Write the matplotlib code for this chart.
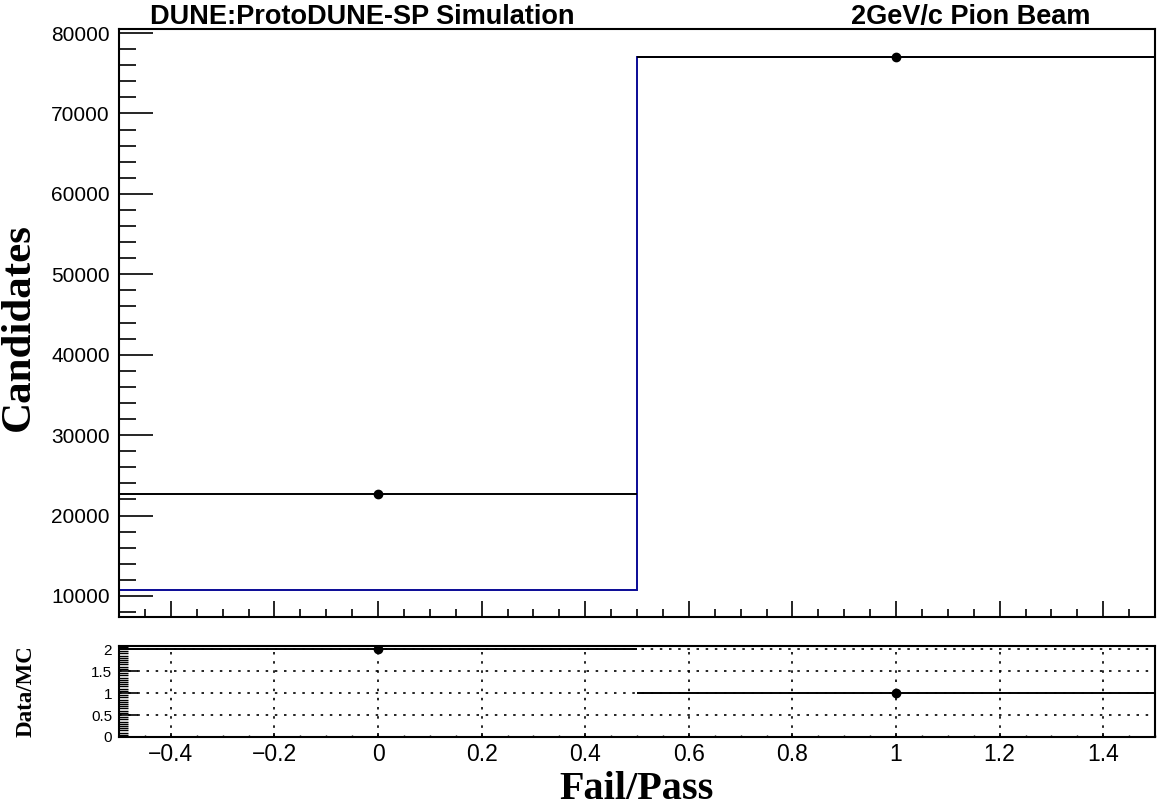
import numpy as np
import matplotlib.pyplot as plt
from matplotlib.ticker import MultipleLocator, FixedLocator, FuncFormatter

plt.rcParams['font.family'] = ['Liberation Sans', 'DejaVu Sans']

# -------------------------------
# 데이터
# -------------------------------
bin_edges = [-0.5, 0.5, 1.5]        # Fail / Pass 두 개 bin
bin_centers = [0.0, 1.0]
mc_counts = [10700, 77000]          # MC (파란 히스토그램)
data_counts = [22700, 77000]        # Data (검은 점)
ratio_vals = [2.0, 1.0]             # Data/MC

x_major = [-0.4, -0.2, 0.0, 0.2, 0.4, 0.6, 0.8, 1.0, 1.2, 1.4]
y_major = [10000, 20000, 30000, 40000, 50000, 60000, 70000, 80000]
r_major = [0, 0.5, 1, 1.5, 2]

mc_color = "#0a0a96"

def fmt_num(v, pos=None):
    s = f"{round(v, 3):g}"
    if s == "-0":
        s = "0"
    return s.replace("-", "\u2212")

fig = plt.figure(figsize=(11.6, 8.08), dpi=100)
ax = fig.add_axes([0.1026, 0.2364, 0.8931, 0.7277])
rx = fig.add_axes([0.1026, 0.0879, 0.8931, 0.1126])

# -------------------------------
# 위쪽 패널: 히스토그램
# -------------------------------
ax.stairs(mc_counts, bin_edges, baseline=None, color=mc_color, linewidth=1.4)
ax.errorbar(bin_centers, data_counts, xerr=0.5, yerr=np.sqrt(data_counts),
            fmt="o", color="k", ms=6, elinewidth=1.4, capsize=0, zorder=3)

ax.set_xlim(-0.5, 1.5)
ax.set_ylim(7390, 80500)
ax.xaxis.set_major_locator(FixedLocator(x_major))
ax.xaxis.set_minor_locator(MultipleLocator(0.05))
ax.yaxis.set_major_locator(FixedLocator(y_major))
ax.yaxis.set_minor_locator(MultipleLocator(2000))
ax.yaxis.set_major_formatter(FuncFormatter(fmt_num))
ax.tick_params(axis="y", which="major", direction="in", length=24.5, width=1.2,
               labelsize=15, pad=6.5, left=True, right=False)
ax.tick_params(axis="y", which="minor", direction="in", length=12.2, width=1.2,
               left=True, right=False)
ax.tick_params(axis="x", which="major", direction="in", length=11.5, width=1.2,
               labelbottom=False, top=False)
ax.tick_params(axis="x", which="minor", direction="in", length=5.8, width=1.2,
               top=False)
for sp in ax.spines.values():
    sp.set_linewidth(1.5)

# -------------------------------
# 아래쪽 패널: Data/MC 비율
# -------------------------------
rx.errorbar(bin_centers, ratio_vals, xerr=0.5, fmt="o", color="k", ms=6,
            elinewidth=1.4, capsize=0, zorder=3)
rx.set_xlim(-0.5, 1.5)
rx.set_ylim(0, 2.07)
rx.xaxis.set_major_locator(FixedLocator(x_major))
rx.xaxis.set_minor_locator(MultipleLocator(0.05))
rx.yaxis.set_major_locator(FixedLocator(r_major))
rx.yaxis.set_minor_locator(MultipleLocator(0.05))
rx.xaxis.set_major_formatter(FuncFormatter(fmt_num))
rx.yaxis.set_major_formatter(FuncFormatter(fmt_num))
rx.tick_params(axis="y", which="major", direction="in", length=13.7, width=1.2,
               labelsize=11, pad=5, left=True, right=False)
rx.tick_params(axis="y", which="minor", direction="in", length=6.5, width=1.0,
               left=True, right=False)
rx.tick_params(axis="x", which="major", direction="in", length=3, width=1.2,
               labelsize=16.5, pad=4, top=False)
rx.tick_params(axis="x", which="minor", direction="in", length=1.5, width=1.0,
               top=False)
rx.grid(True, which="major", color="k", linestyle=(0, (1.5, 4)), linewidth=1.2)
for sp in rx.spines.values():
    sp.set_linewidth(1.5)

# -------------------------------
# 라벨 / 제목
# -------------------------------
fig.text(0.129, 0.9703, "DUNE:ProtoDUNE-SP Simulation", fontsize=19.5,
         fontweight="bold", ha="left", va="baseline")
fig.text(0.9397, 0.9703, "2GeV/c Pion Beam", fontsize=19.5,
         fontweight="bold", ha="right", va="baseline")
fig.text(0.0164, 0.5953, "Candidates", family="Liberation Serif", fontsize=31,
         fontweight="bold", rotation=90, ha="center", va="center")
fig.text(0.0228, 0.1448, "Data/MC", family="Liberation Serif", fontsize=16.5,
         fontweight="bold", rotation=90, ha="center", va="center")
fig.text(0.549, 0.011, "Fail/Pass", family="Liberation Serif", fontsize=29,
         fontweight="bold", ha="center", va="baseline")

plt.savefig("out.png", dpi=100)
